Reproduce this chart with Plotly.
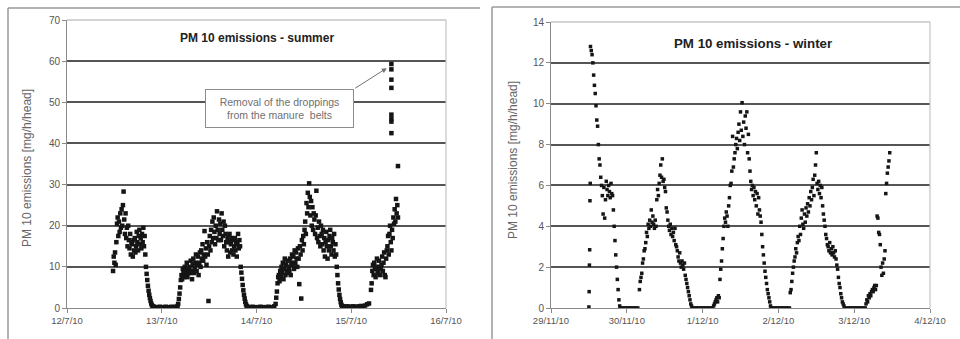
import pandas as pd
import plotly.graph_objects as go

W, H = 960, 339

# ---------------- SUMMER DATA (mg/h/head) ----------------
# each segment: start time, sampling step in minutes, values
s1_start, s1_step = "2010-07-12 11:40", 10
s1_vals = [9.0, 12.5, 11.0, 13.5, 10.5, 16.0, 20.5, 22.0, 17.5, 21.0,
           18.5, 23.0, 19.5, 24.0, 20.0, 25.0, 28.3, 21.5, 18.0, 23.0,
           17.0, 19.5, 15.0, 20.0, 16.5, 14.5, 18.0, 13.0, 16.0, 15.5,
           12.5, 16.5, 14.0, 17.0, 13.5, 15.0, 18.5, 16.0, 14.0, 17.5,
           19.0, 15.5, 17.0, 14.5, 18.0, 16.0, 19.5, 15.0, 17.5, 13.0,
           10.0, 8.3, 6.8, 5.4, 4.2, 3.2, 2.4, 1.7, 1.1, 0.7, 0.4, 0.3]
f1_start, f1_step = "2010-07-12 22:00", 30
f1_vals = [0.3, 0.2, 0.2, 0.3, 0.2, 0.2, 0.3, 0.2, 0.2, 0.3, 0.2, 0.3, 0.5]

s2_start, s2_step = "2010-07-13 04:10", 10
s2_vals = [1.0, 2.2, 3.5, 5.0, 6.8,
           8.0, 7.0, 9.5, 8.5, 7.5, 10.0, 8.0, 9.0, 11.0, 7.5, 9.5, 8.5,
           10.0, 8.5, 11.5, 9.0, 7.0, 10.5, 12.0, 8.5, 9.5, 11.0, 13.0, 9.0, 10.5, 12.5, 8.0,
           11.0, 13.5, 10.0, 14.0, 12.0, 15.5, 11.5, 13.0, 18.7, 12.5, 14.5, 10.5, 16.0, 13.0, 1.7,
           15.0, 17.5, 14.0, 19.0, 16.0, 21.0, 17.0, 22.0, 18.5, 15.5, 20.0, 17.0, 23.5, 19.0, 16.5,
           21.5, 18.0, 20.5, 16.5, 23.0, 19.0, 17.5, 21.0, 15.0, 20.0, 18.0, 16.0,
           14.0, 17.0, 12.5, 16.0, 18.0, 13.5, 15.5, 17.0, 14.0, 16.5, 13.0,
           15.0, 17.0, 14.0, 16.0, 12.5, 15.5, 18.0, 14.5, 16.5, 15.0,
           10.0, 8.6, 7.1, 5.6, 4.3, 3.2, 2.3, 1.5, 0.9, 0.5, 0.3, 0.2]
f2_start, f2_step = "2010-07-13 22:00", 30
f2_vals = [0.2, 0.2, 0.3, 0.2, 0.2, 0.2, 0.3, 0.2, 0.2, 0.2, 0.3, 0.2, 0.2, 0.4]

s3_start, s3_step = "2010-07-14 04:50", 10
s3_vals = [1.0, 2.5, 4.0, 6.0, 7.5,
           8.0, 6.5, 9.0, 7.5, 10.0, 8.5, 11.0, 7.0, 9.5, 12.0, 8.0, 10.5, 9.0, 11.5, 8.5,
           10.0, 9.0, 12.0, 8.0, 11.0, 13.0, 10.5, 12.5, 9.5, 14.0, 11.0, 13.5, 12.0, 10.0, 14.5,
           12.0, 5.8, 15.0, 13.0, 2.3, 16.5, 14.0, 17.5, 15.5, 19.0,
           21.0, 18.0, 25.5, 23.0, 28.0, 24.5, 30.3, 27.0, 22.5, 26.0,
           20.0, 24.5, 19.0, 23.0, 21.5, 18.0, 22.5, 28.5, 17.0,
           19.5, 16.0, 21.0, 17.5, 15.0, 20.0, 18.0, 15.5, 19.0,
           14.0, 17.0, 12.5, 16.0, 18.5, 15.0, 12.0, 16.5, 14.0, 17.5,
           19.0, 15.0, 13.0, 17.0, 16.0, 14.0, 18.0, 12.5, 15.5, 13.0,
           10.0, 8.0, 6.0, 4.5, 3.2, 2.2, 1.4, 0.8, 0.5, 0.3]
f3_start, f3_step = "2010-07-14 22:00", 30
f3_vals = [0.4, 0.3, 0.4, 0.3, 0.3, 0.4, 0.3, 0.3, 0.4, 0.5, 0.4, 0.6, 0.9, 1.1]

s4_start, s4_step = "2010-07-15 05:00", 10
s4_vals = [4.4, 6.0, 9.0, 10.5, 8.0, 11.0, 9.5, 7.5, 10.0, 12.0, 8.5, 9.0, 11.5, 10.0, 8.0, 9.5,
           10.5, 12.5, 9.0, 11.0, 13.5, 8.0, 7.5, 12.0, 14.0,
           15.0, 17.5, 13.0, 18.0, 20.0, 16.0, 14.0, 19.0,
           17.0, 22.0, 20.5, 24.0, 21.0, 26.5, 23.0, 25.0, 22.0]

spike_times = ["2010-07-15 10:10"] * 8 + ["2010-07-15 11:50"]
spike_vals = [59.3, 58.0, 55.5, 53.5, 47.0, 46.0, 45.3, 42.5, 34.5]

summer_segments = [(s1_start, s1_step, s1_vals), (f1_start, f1_step, f1_vals),
                   (s2_start, s2_step, s2_vals), (f2_start, f2_step, f2_vals),
                   (s3_start, s3_step, s3_vals), (f3_start, f3_step, f3_vals),
                   (s4_start, s4_step, s4_vals)]

# ---------------- WINTER DATA (mg/h/head) ----------------
w0_start, w0_step = "2010-11-29 12:00", 5
w0_vals = [0.05, 0.8, 2.1, 2.85, 5.25, 6.1]
w1_start, w1_step = "2010-11-29 12:30", 15
w1_vals = [12.8, 12.6, 12.4, 12.0, 11.4, 10.9, 10.5, 9.9, 9.2, 8.9, 8.0, 7.3, 7.0, 6.4,
           6.0, 5.5, 4.6, 5.9, 4.4, 5.3, 6.2, 5.8, 5.5, 6.0, 5.7, 5.4, 6.1, 5.6, 5.5,
           4.8, 4.0, 3.3, 2.6, 2.0, 1.4, 0.9, 0.4, 0.1]
z1_start, z1_step = "2010-11-29 22:00", 30
z1_vals = [0, 0, 0, 0, 0, 0, 0, 0, 0, 0, 0, 0]

w2_start, w2_step = "2010-11-30 04:00", 15
w2_vals = [0.9, 1.3, 1.5, 1.7, 2.2, 2.4, 2.8, 2.9,
           3.2, 3.7, 3.5, 4.1, 3.9, 4.3,
           4.0, 4.8, 4.2, 4.5, 4.1, 3.9, 4.3, 4.0,
           5.3, 5.8, 5.5, 6.1, 6.5, 7.0, 6.4, 7.3,
           6.2, 6.3, 5.9, 5.7, 4.9, 4.7,
           4.3, 4.0, 3.8, 4.1, 3.6, 3.9, 3.5, 3.7, 3.3, 3.9,
           3.1, 3.0, 2.8, 2.5, 2.3, 2.7,
           2.2, 2.0, 2.3, 2.1, 1.9, 2.2, 1.6, 1.4,
           1.2, 1.0, 0.8, 0.6, 0.4, 0.2, 0.1, 0.0]
z2_start, z2_step = "2010-11-30 21:00", 30
z2_vals = [0, 0, 0, 0, 0, 0, 0, 0, 0, 0, 0, 0, 0]

w3_start, w3_step = "2010-12-01 03:30", 15
w3_vals = [0.1, 0.2, 0.3, 0.4, 0.5, 0.3, 0.6, 0.5,
           1.4, 1.9, 2.3, 2.9, 3.4,
           4.0, 4.4, 4.2, 4.7, 4.5, 4.0,
           5.0, 5.4, 6.0, 6.1, 6.7, 8.4,
           6.9, 7.3, 7.6, 8.0, 8.3, 7.8,
           8.6, 9.0, 8.2, 9.6, 8.7, 10.05, 8.4, 9.1, 8.0,
           9.4, 8.8, 9.6, 7.6, 8.5, 7.3, 6.7, 6.2,
           5.8, 6.0, 5.5, 5.9, 5.3, 5.7, 5.0, 5.6, 4.6, 5.4,
           4.8, 4.5, 4.2, 3.6, 3.0, 2.6, 2.2, 1.8,
           1.5, 1.2, 0.9, 0.7, 0.5, 0.3, 0.1, 0.0]
z3_start, z3_step = "2010-12-01 22:00", 30
z3_vals = [0, 0, 0, 0, 0, 0, 0, 0, 0, 0, 0, 0]

w4_start, w4_step = "2010-12-02 03:45", 15
w4_vals = [0.75, 0.9, 1.3, 1.7, 2.0, 2.3,
           2.5, 2.9, 2.7, 3.2, 3.5, 3.3,
           4.0, 3.6, 4.4, 4.8, 4.1, 3.9, 4.6, 4.2,
           4.9, 4.5, 5.1, 4.7, 5.4, 5.0, 5.7, 5.3,
           5.9, 6.3, 5.5, 6.5, 7.0, 7.6, 6.1, 5.8,
           6.2, 5.6, 6.0, 5.4, 5.9, 5.0, 4.6, 4.3,
           4.0, 3.6, 3.4, 3.1, 3.0, 2.8, 3.2, 2.7,
           2.9, 2.6, 3.0, 2.7, 2.5, 2.8, 2.4, 2.1,
           1.9, 1.5, 1.2, 1.0, 0.7, 0.5, 0.3, 0.2, 0.1, 0.0]
z4_start, z4_step = "2010-12-02 21:30", 30
z4_vals = [0, 0, 0, 0, 0, 0, 0, 0, 0, 0, 0, 0, 0]

w5_start, w5_step = "2010-12-03 03:45", 15
w5_vals = [0.2, 0.4, 0.3, 0.6, 0.5, 0.7, 0.6, 0.8,
           0.9, 0.8, 1.0, 1.1, 0.9, 1.1,
           4.5, 4.4, 3.7, 3.6, 3.1,
           2.0, 1.6, 2.2, 1.7, 2.4, 2.8,
           5.6, 6.1, 6.6, 6.9, 7.2, 7.6]

winter_segments = [(w0_start, w0_step, w0_vals), (w1_start, w1_step, w1_vals), (z1_start, z1_step, z1_vals),
                   (w2_start, w2_step, w2_vals), (z2_start, z2_step, z2_vals),
                   (w3_start, w3_step, w3_vals), (z3_start, z3_step, z3_vals),
                   (w4_start, w4_step, w4_vals), (z4_start, z4_step, z4_vals),
                   (w5_start, w5_step, w5_vals)]

summer_title = "PM 10 emissions - summer"
winter_title = "PM 10 emissions - winter"
y_title = "PM 10 emissions [mg/h/head]"
note_text = "Removal of the droppings<br>from the manure  belts"
summer_yticks = [0, 10, 20, 30, 40, 50, 60, 70]
winter_yticks = [0, 2, 4, 6, 8, 10, 12, 14]
summer_xrange = ["2010-07-12", "2010-07-16"]
winter_xrange = ["2010-11-29", "2010-12-04"]


def build(segments):
    xs, ys = [], []
    for start, step, vals in segments:
        t = pd.date_range(start, periods=len(vals), freq=f"{step}min")
        xs.extend(t)
        ys.extend(vals)
    return xs, ys


sx, sy = build(summer_segments)
sx.extend(pd.to_datetime(spike_times))
sy.extend(spike_vals)
wx, wy = build(winter_segments)

FONT = "Arial, Liberation Sans, sans-serif"

fig = go.Figure()
fig.add_trace(go.Scatter(x=sx, y=sy, mode="markers",
                         marker=dict(symbol="square", size=4.5, color="#151515", line=dict(width=0)),
                         xaxis="x", yaxis="y", showlegend=False, hoverinfo="skip"))
fig.add_trace(go.Scatter(x=wx, y=wy, mode="markers",
                         marker=dict(symbol="square", size=3.5, color="#151515", line=dict(width=0)),
                         xaxis="x2", yaxis="y2", showlegend=False, hoverinfo="skip"))


def px(x):
    return x / W


def py(y):
    return 1 - y / H


axis_common = dict(showline=True, linecolor="#8a8a8a", linewidth=1, ticks="outside",
                   ticklen=4, tickcolor="#8a8a8a", tickfont=dict(family=FONT, size=10, color="#555"),
                   zeroline=False, automargin=False)
xcommon = dict(axis_common, type="date", dtick=86400000, tickformat="%-d/%-m/%y",
               showgrid=False, tickfont=dict(family=FONT, size=9.5, color="#555"))
ycommon = dict(axis_common, showgrid=True, gridcolor="#555555", gridwidth=1.5)

fig.update_layout(
    template="none",
    width=W, height=H, margin=dict(l=0, r=0, t=0, b=0, pad=0, autoexpand=False),
    paper_bgcolor="white", plot_bgcolor="white",
    xaxis=dict(xcommon, domain=[px(67), px(446)], range=summer_xrange, anchor="y"),
    yaxis=dict(ycommon, domain=[py(308), py(20)], range=[0, 70], tickvals=summer_yticks, anchor="x"),
    xaxis2=dict(xcommon, domain=[px(551), px(930)], range=winter_xrange, anchor="y2"),
    yaxis2=dict(ycommon, domain=[py(308), py(22)], range=[0, 14], tickvals=winter_yticks, anchor="x2"),
)

shapes = []
# plot-area borders (light)
for xr, yr in (("x", "y"), ("x2", "y2")):
    shapes.append(dict(type="line", xref=f"{xr} domain", yref=f"{yr} domain", x0=0, x1=1, y0=1, y1=1,
                       line=dict(color="#c4c4c4", width=1.6), layer="above"))
    shapes.append(dict(type="line", xref=f"{xr} domain", yref=f"{yr} domain", x0=1, x1=1, y0=0, y1=1,
                       line=dict(color="#c4c4c4", width=1.2), layer="above"))
# outer panel frames
for (x0, y0, x1) in ((8, 8, 480), (492, 7, 960)):
    shapes.append(dict(type="line", xref="paper", yref="paper", x0=px(x0), x1=px(x0), y0=py(y0), y1=-0.05,
                       line=dict(color="#9a9a9a", width=1.5)))
    shapes.append(dict(type="line", xref="paper", yref="paper", x0=px(x0), x1=px(x1), y0=py(y0), y1=py(y0),
                       line=dict(color="#9a9a9a", width=1.5)))
fig.update_layout(shapes=shapes)

C = dict(xanchor="center", yanchor="middle", showarrow=False)
ann = []
ann.append(dict(C, text=f"<b>{summer_title}</b>", xref="paper", yref="paper", x=px(257), y=py(38),
                font=dict(family=FONT, size=12, color="#222")))
ann.append(dict(C, text=f"<b>{winter_title}</b>", xref="paper", yref="paper", x=px(753), y=py(43),
                font=dict(family=FONT, size=13.3, color="#222")))
ann.append(dict(C, text=y_title, xref="paper", yref="paper", x=px(27), y=py(168), textangle=-90,
                font=dict(family=FONT, size=12, color="#666")))
ann.append(dict(C, text=y_title, xref="paper", yref="paper", x=px(513), y=py(160), textangle=-90,
                font=dict(family=FONT, size=12, color="#666")))
# annotation box
ann.append(dict(C, text=note_text, xref="paper", yref="paper", x=px(279.5), y=py(108.5),
                bgcolor="white", bordercolor="#8c8c8c", borderwidth=1, borderpad=3,
                width=141, height=31, font=dict(family=FONT, size=10.5, color="#707070")))
# arrow toward the spike
ann.append(dict(text="", xref="x", yref="y", x="2010-07-15 09:00", y=58.3, ax=-33, ay=21,
                showarrow=True, arrowhead=2, arrowsize=1, arrowwidth=1, arrowcolor="#707070"))
fig.update_layout(annotations=ann)

fig.write_html("out.html")
